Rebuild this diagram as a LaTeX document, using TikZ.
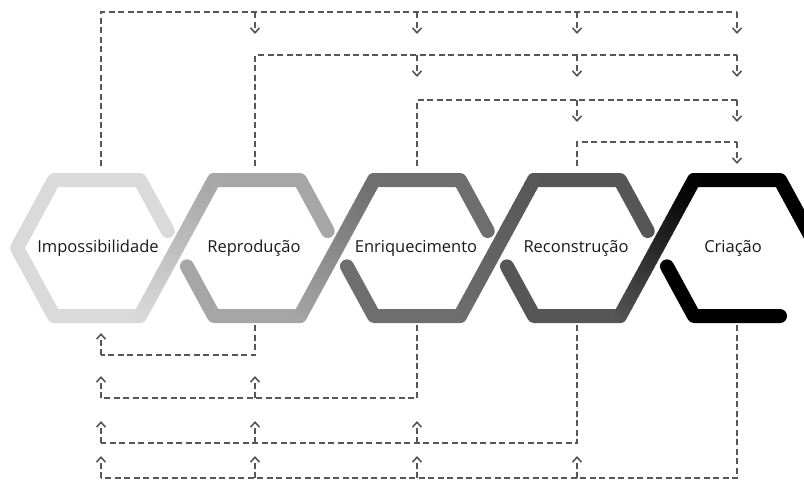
\documentclass[tikz,border=0pt]{standalone}
\usepackage{fontspec}
\setmainfont{Open Sans}
\usetikzlibrary{calc,arrows.meta}
\definecolor{hexA}{HTML}{DADADA}
\definecolor{hexB}{HTML}{A6A6A6}
\definecolor{hexC}{HTML}{6E6E6E}
\definecolor{hexD}{HTML}{565656}
\definecolor{hexE}{HTML}{000000}
\definecolor{linkgray}{HTML}{575757}
\tikzset{
  band/.style={line width=14pt,line cap=round,line join=round},
  link/.style={draw=linkgray,line width=1.8pt,dash pattern=on 6pt off 3.5pt},
  linkarrow/.style={link,-{Straight Barb[length=5pt,width=9pt,line width=1.6pt]}},
  stage/.style={font=\fontsize{16.5}{19}\selectfont,inner sep=0pt,text=black!90}
}

\begin{document}
\begin{tikzpicture}[x=1pt,y=-1pt]
    \useasboundingbox (0,0) rectangle (804,483);
    % hexagon corners
    \foreach \i/\x in {1/97,2/257,3/417,4/577,5/737}{
        \coordinate (TL\i) at (\x-43,180);
        \coordinate (TR\i) at (\x+43,180);
        \coordinate (R\i) at (\x+80,248);
        \coordinate (BR\i) at (\x+43,316);
        \coordinate (BL\i) at (\x-43,316);
        \coordinate (L\i) at (\x-80,248);
    }
    % first hexagon, almost closed
    \draw[band,hexA] ($(R1)!0.25!(TR1)$) -- (TR1) -- (TL1) -- (L1) -- (BL1) -- (BR1);
    % the other ones: upper and lower halves
    \draw[band,hexB] (TL2) -- (TR2) -- ($(R2)!0.25!(TR2)$);
    \draw[band,hexB] ($(L2)!0.27!(BL2)$) -- (BL2) -- (BR2);
    \draw[band,hexC] (TL3) -- (TR3) -- ($(R3)!0.25!(TR3)$);
    \draw[band,hexC] ($(L3)!0.27!(BL3)$) -- (BL3) -- (BR3);
    \draw[band,hexD] (TL4) -- (TR4) -- ($(R4)!0.25!(TR4)$);
    \draw[band,hexD] ($(L4)!0.27!(BL4)$) -- (BL4) -- (BR4);
    \draw[band,hexE] (TL5) -- (TR5) -- ($(R5)!-0.1!(TR5)$);
    \draw[band,hexE] ($(L5)!0.27!(BL5)$) -- (BL5) -- (BR5);
    % shaded diagonals between two stages
    \foreach \i/\j in {1/2,2/3,3/4,4/5}{
        \foreach \k in {0,...,23}{
            \pgfmathtruncatemacro\p{100*(\k+0.5)/24}
            \draw[band,color=hex\ifcase\j\or A\or B\or C\or D\or E\fi!\p!hex\ifcase\i\or A\or B\or C\or D\or E\fi]
                ($(BR\i)!\k/24!(TL\j)$) -- ($(BR\i)!{(\k+1)/24}!(TL\j)$);
        }
    }
    \node[stage] (imp) at (98,248) {Impossibilidade};
    \node[stage] (rep) at (254,248) {Reprodução};
    \node[stage] (enr) at (416,248) {Enriquecimento};
    \node[stage] (rec) at (576,248) {Reconstrução};
    \node[stage] (cri) at (733,248) {Criação};
    % connector ends
    \foreach \i/\x in {1/101,2/255,3/417,4/577,5/737}{
        \coordinate (top\i) at (\x,166);
        \coordinate (bot\i) at (\x,325);
    }
    \coordinate (up1) at (0,12);
    \coordinate (up2) at (0,55);
    \coordinate (up3) at (0,100);
    \coordinate (up4) at (0,142);
    \coordinate (dn1) at (0,355);
    \coordinate (dn2) at (0,398);
    \coordinate (dn3) at (0,443);
    \coordinate (dn4) at (0,478);
    % forward links (above)
    \foreach \i in {1,...,4}{
        \pgfmathtruncatemacro\n{\i+1}
        \draw[link] (top\i) |- (top5 |- up\i);
        \foreach \j in {\n,...,5}
            \draw[linkarrow] (top\j |- up\i) -- ++(0,22);
    }
    % backward links (below)
    \foreach \i in {1,...,4}{
        \pgfmathtruncatemacro\n{\i+1}
        \draw[link] (bot\n) |- (bot1 |- dn\i);
        \foreach \j in {1,...,\i}
            \draw[linkarrow] (bot\j |- dn\i) -- ++(0,-22);
    }
\end{tikzpicture}
\end{document}
